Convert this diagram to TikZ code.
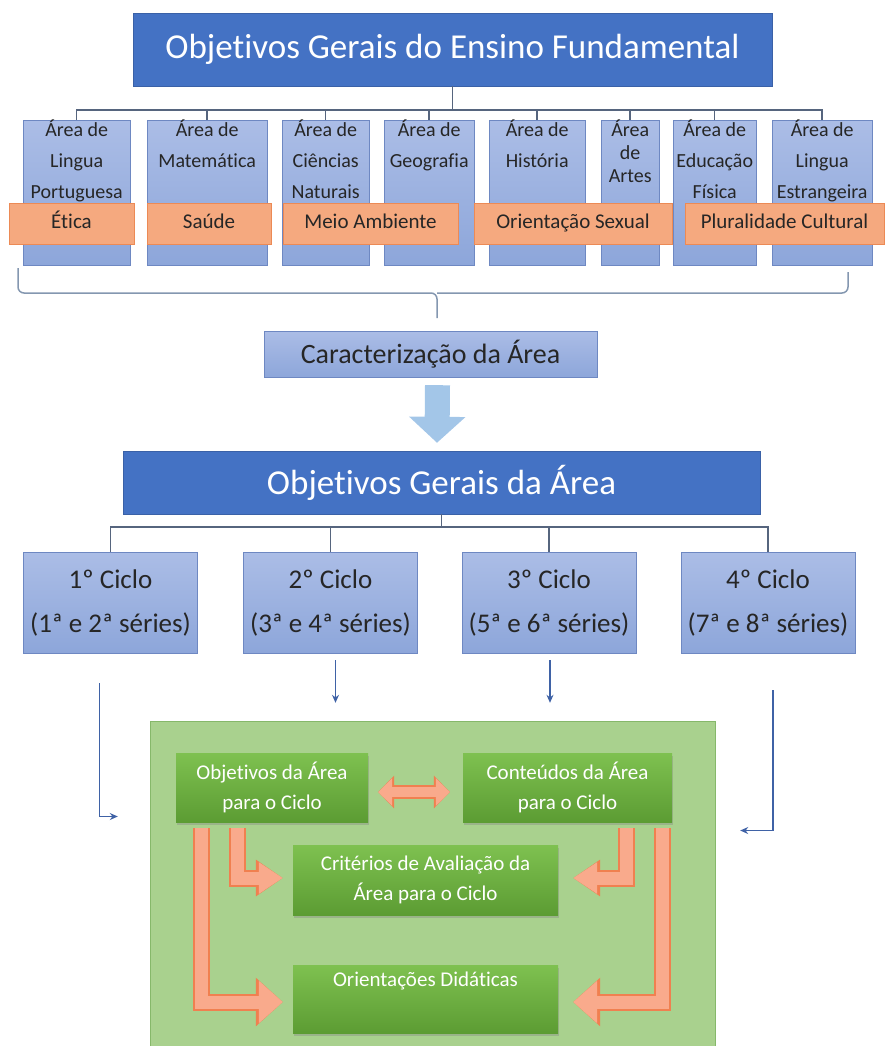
\documentclass[tikz,border=0pt]{standalone}
\usepackage{fontspec}
\setmainfont[Ligatures=NoCommon]{Carlito}
\usetikzlibrary{positioning,calc,arrows.meta,shadows}

\definecolor{titleblue}{HTML}{4472C4}
\definecolor{areatop}{HTML}{ABBDE6}
\definecolor{areabot}{HTML}{8DA6DA}
\definecolor{arealine}{HTML}{6E88C2}
\definecolor{textdark}{HTML}{262626}
\definecolor{barfill}{HTML}{F5A97F}
\definecolor{barline}{HTML}{EC8A55}
\definecolor{treeline}{HTML}{56657E}
\definecolor{braceline}{HTML}{8497B0}
\definecolor{bigarrow}{HTML}{A3C6E8}
\definecolor{arrowblue}{HTML}{3F62A6}
\definecolor{greenbox}{HTML}{A9D18E}
\definecolor{greenline}{HTML}{86B86A}
\definecolor{greentop}{HTML}{7EC150}
\definecolor{greenbot}{HTML}{5C9C33}
\definecolor{salmonf}{HTML}{F9AA8C}
\definecolor{orangeb}{HTML}{F08050}

% text of the area boxes, hung from the top
\newcommand{\areatxt}[3][31pt]{\parbox[c][145pt][t]{#2pt}{\centering\fontsize{20}{#1}\selectfont #3}}

\begin{document}
\begin{tikzpicture}[x=1pt,y=-1pt,
  titlebox/.style={fill=titleblue, draw=titleblue!85!black, text=white, inner sep=0, font=\fontsize{35}{42}\selectfont},
  areabox/.style={draw=arealine, top color=areatop, bottom color=areabot, text=textdark, inner sep=0},
  tema/.style={draw=barline, fill=barfill, text=textdark, inner sep=0, minimum height=41, text height=15, text depth=5, font=\fontsize{21}{25}\selectfont},
  bluebox/.style={draw=arealine, top color=areatop, bottom color=areabot, text=textdark, inner sep=0, align=center},
  ciclo/.style={bluebox, minimum width=174, minimum height=101, font=\fontsize{27}{44}\selectfont},
  etapa/.style={top color=greentop, bottom color=greenbot, text=white, inner sep=0, align=center,
    font=\fontsize{21}{30}\selectfont, drop shadow={shadow xshift=1pt, shadow yshift=-3pt, opacity=0.35}},
  tree/.style={draw=treeline, line width=1.5},
  seta/.style={draw=arrowblue, line width=1.2, -{Stealth[length=8pt,width=7pt]}},
  fat/.style={line join=miter}
]
\useasboundingbox (0,0) rectangle (885,1046);

% top block
\node[titlebox, minimum width=639, minimum height=73] (ogef) at (452.5,49.5) {Objetivos Gerais do Ensino Fundamental};

\node[areabox, anchor=north west] (a1) at (23,120) {\areatxt{107}{Área de\\Lingua\\Portuguesa}};
\node[areabox, anchor=north west] (a2) at (147,120) {\areatxt{120}{Área de\\Matemática}};
\node[areabox, anchor=north west] (a3) at (282,120) {\areatxt{87}{Área de\\Ciências\\Naturais}};
\node[areabox, anchor=north west] (a4) at (384,120) {\areatxt{90}{Área de\\Geografia}};
\node[areabox, anchor=north west] (a5) at (489,120) {\areatxt{96}{Área de\\História}};
\node[areabox, anchor=north west] (a6) at (601,120) {\areatxt[23pt]{58}{Área\\de\\Artes}};
\node[areabox, anchor=north west] (a7) at (673,120) {\areatxt{83}{Área de\\Educação\\Física}};
\node[areabox, anchor=north west] (a8) at (772,120) {\areatxt{100}{Área de\\Lingua\\Estrangeira}};

\draw[tree] (ogef.south) -- ++(0,24) coordinate (hub);
\foreach \i in {1,...,8}
  \draw[tree] (hub) -| (a\i.north);

\node[tema, minimum width=125] (t1) at (71.5,223.5) {Ética};
\node[tema, minimum width=124] (t2) at (209,223.5) {Saúde};
\node[tema, minimum width=175] (t3) at (370.5,223.5) {Meio Ambiente};
\node[tema, minimum width=198] (t4) at (573,223.5) {Orientação Sexual};
\node[tema, minimum width=199] (t5) at (784.5,223.5) {Pluralidade Cultural};

% bracket under the areas
\draw[draw=braceline, line width=1.5, rounded corners=6] (18,268) |- (437,293) -- (437,318);
\draw[draw=braceline, line width=1.5, rounded corners=6] (848,272) |- (437,293);

% middle block
\node[bluebox, minimum width=333, minimum height=46, font=\fontsize{28}{34}\selectfont] (car) at (430.5,354) {Caracterização da Área};
\node[titlebox, minimum width=637, minimum height=63] (oga) at (441.5,482.5) {Objetivos Gerais da Área};
\draw[draw=bigarrow, line width=25, -{Triangle[length=26pt,width=55pt]}] ($(car.south)+(7,8)$) -- ($(oga.north)+(-4.5,-8)$);

\node[ciclo] (c1) at (110.5,602.5) {1º Ciclo\\(1ª e 2ª séries)};
\node[ciclo] (c2) at (330.5,602.5) {2º Ciclo\\(3ª e 4ª séries)};
\node[ciclo] (c3) at (549,602.5) {3º Ciclo\\(5ª e 6ª séries)};
\node[ciclo] (c4) at (768,602.5) {4º Ciclo\\(7ª e 8ª séries)};

\draw[tree] (oga.south) -- ++(0,13) coordinate (hub2);
\foreach \i in {1,...,4}
  \draw[tree] (hub2) -| (c\i.north);

% bottom block
\node[draw=greenline, fill=greenbox, minimum width=565, minimum height=325] (big) at (432.5,883.5) {};

\node[etapa, minimum width=192, minimum height=69] (obj) at (272,787.5) {Objetivos da Área\\para o Ciclo};
\node[etapa, minimum width=209, minimum height=69] (cont) at (567.5,787.5) {Conteúdos da Área\\para o Ciclo};
\node[etapa, minimum width=265, minimum height=70] (crit) at (425.5,880) {Critérios de Avaliação da\\Área para o Ciclo};
\node[etapa, minimum width=265, minimum height=68, text depth=40] (orient) at (425.5,999) {Orientações Didáticas};

\draw[seta] ($(c2.south)+(5,7)$) -- ($(c2.south |- big.north)+(5,-18)$);
\draw[seta] ($(c3.south)+(1,7)$) -- ($(c3.south |- big.north)+(1,-18)$);
\draw[seta] ($(c1.south)+(-11,30)$) |- ($(big.west)+(-32,-67)$);
\draw[seta] ($(c4.south)+(5,37)$) |- ($(big.east)+(25,-53)$);

\foreach \lw/\hl/\hw/\hs/\dl/\dw/\col in {17/27pt/47pt/35pt/16pt/32pt/orangeb, 13/24pt/41pt/30pt/14pt/27pt/salmonf} {
  \draw[fat, draw=\col, line width=\lw, -{Triangle[length=\hl,width=\hw]}] ($(obj.south west)+(26,6)$) |- ($(orient.west)+(-10,3)$);
  \draw[fat, draw=\col, line width=\lw, -{Triangle[length=\hl,width=\hs]}] ($(obj.south west)+(62,6)$) |- ($(crit.west)+(-10,-2)$);
  \draw[fat, draw=\col, line width=\lw, -{Triangle[length=\hl,width=\hs]}] ($(cont.south east)+(-46,6)$) |- ($(crit.east)+(15,-2)$);
  \draw[fat, draw=\col, line width=\lw, -{Triangle[length=\hl,width=\hw]}] ($(cont.south east)+(-10,6)$) |- ($(orient.east)+(15,3)$);
  \draw[draw=\col, line width=\lw-3, {Triangle[length=\dl,width=\dw]}-{Triangle[length=\dl,width=\dw]}] ($(obj.east)+(10,4.5)$) -- ($(cont.west)+(-13,4.5)$);
}
\end{tikzpicture}
\end{document}
